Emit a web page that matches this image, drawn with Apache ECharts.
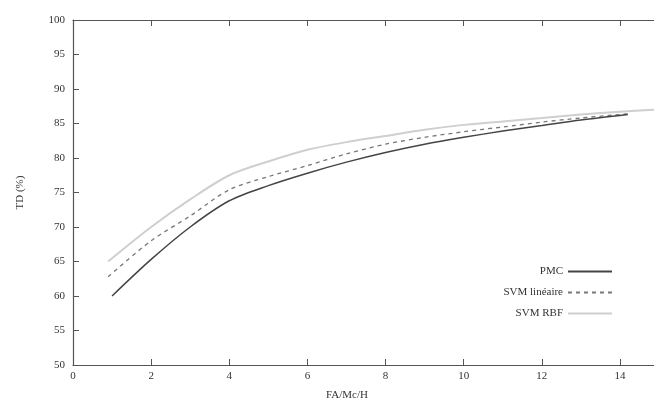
<!DOCTYPE html>
<html>
<head>
<meta charset="utf-8">
<script src="https://cdn.jsdelivr.net/npm/echarts@6/dist/echarts.min.js"></script>
<style>html,body{margin:0;padding:0;background:#fff}#c{width:654px;height:405px}</style>
</head>
<body>
<div id="c"></div>
<script>
var seriesNames = ['PMC', 'SVM linéaire', 'SVM RBF'];
var pmcX = [1, 2, 3, 4, 5, 6, 7, 8, 9, 10, 11, 12, 13, 14.2];
var pmcY = [60, 65.3, 70, 73.8, 76, 77.8, 79.4, 80.8, 82.0, 83.0, 83.9, 84.7, 85.5, 86.3];
var linX = [0.9, 2, 3, 4, 5, 6, 7, 8, 9, 10, 11, 12, 13, 14.2];
var linY = [62.8, 68.0, 71.6, 75.4, 77.3, 78.9, 80.6, 82.0, 83.0, 83.8, 84.5, 85.2, 85.8, 86.4];
var rbfX = [0.9, 2, 3, 4, 5, 6, 7, 8, 9, 10, 11, 12, 13, 14, 14.9];
var rbfY = [65.0, 70.0, 74.0, 77.5, 79.5, 81.2, 82.3, 83.2, 84.1, 84.8, 85.3, 85.8, 86.3, 86.7, 87.0];
var xTicks = [0, 2, 4, 6, 8, 10, 12, 14];
var yTicks = [50, 55, 60, 65, 70, 75, 80, 85, 90, 95, 100];

function pairs(xs, ys) { return xs.map(function (x, i) { return [x, ys[i]]; }); }

var font = 'Liberation Serif';
var axisCol = '#555';
var chart = echarts.init(document.getElementById('c'), null, {renderer: 'canvas'});
chart.setOption({
  animation: false,
  backgroundColor: '#fff',
  textStyle: {fontFamily: font},
  grid: {left: 73, top: 20, width: 586, height: 345, containLabel: false, outerBoundsMode: 'none'},
  xAxis: [{
    type: 'value', min: 0, max: 15, interval: 2, position: 'bottom',
    axisLine: {lineStyle: {color: axisCol, width: 1.2}},
    axisTick: {inside: true, length: 6, lineStyle: {color: axisCol}},
    axisLabel: {color: '#333', fontFamily: font, fontSize: 11, margin: 6, showMaxLabel: false,
      formatter: function (v) { return xTicks.indexOf(v) >= 0 ? String(v) : ''; }},
    splitLine: {show: false}
  }, {
    type: 'value', min: 0, max: 15, interval: 2, position: 'top',
    axisLine: {lineStyle: {color: axisCol, width: 1.2}},
    axisTick: {inside: true, length: 6, lineStyle: {color: axisCol}},
    axisLabel: {show: false},
    splitLine: {show: false}
  }],
  yAxis: [{
    type: 'value', min: 50, max: 100, interval: 5,
    name: 'TD (%)', nameLocation: 'middle', nameGap: 47, nameRotate: 90,
    nameTextStyle: {color: '#333', fontFamily: font, fontSize: 11},
    axisLine: {show: true, lineStyle: {color: axisCol, width: 1.2}},
    axisTick: {show: true, inside: true, length: 6, lineStyle: {color: axisCol}},
    axisLabel: {color: '#333', fontFamily: font, fontSize: 11, margin: 8,
      formatter: function (v) { return yTicks.indexOf(v) >= 0 ? String(v) : ''; }},
    splitLine: {show: false}
  }],
  legend: {
    orient: 'vertical', right: 36, top: 261, align: 'right',
    itemWidth: 44, itemHeight: 10, itemGap: 10,
    itemStyle: {color: 'transparent', borderWidth: 0, opacity: 0},
    textStyle: {color: '#333', fontFamily: font, fontSize: 11},
    data: seriesNames
  },
  graphic: [{
    type: 'text', left: 326, top: 390,
    style: {text: 'FA/Mc/H', fill: '#333', font: '11px "Liberation Serif"'}
  }],
  series: [{
    name: seriesNames[0], type: 'line', smooth: 0.3, symbol: 'none',
    lineStyle: {color: '#444', width: 1.5, type: 'solid'},
    itemStyle: {color: '#444'},
    data: pairs(pmcX, pmcY), z: 5
  }, {
    name: seriesNames[1], type: 'line', smooth: 0.3, symbol: 'none',
    lineStyle: {color: '#777', width: 1.3, type: [4, 4]},
    itemStyle: {color: '#777'},
    data: pairs(linX, linY), z: 4
  }, {
    name: seriesNames[2], type: 'line', smooth: 0.3, symbol: 'none',
    lineStyle: {color: '#cfcfcf', width: 2, type: 'solid'},
    itemStyle: {color: '#cfcfcf'},
    data: pairs(rbfX, rbfY), z: 3
  }]
});
</script>
</body>
</html>
